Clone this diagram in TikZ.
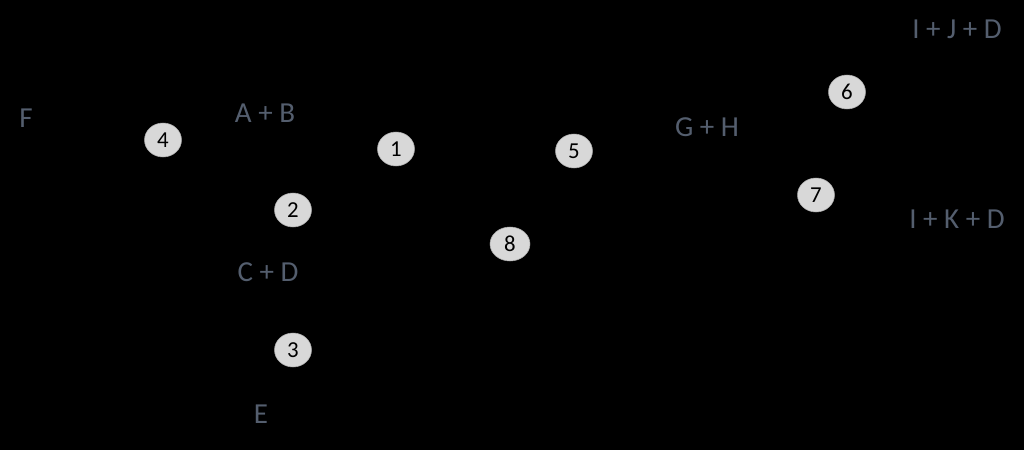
\documentclass[tikz,border=0pt]{standalone}
\usepackage{fontspec}
\setmainfont{Carlito}
\usetikzlibrary{shapes.geometric}
\definecolor{labelgray}{RGB}{84,94,110}
\definecolor{stepgray}{RGB}{216,216,216}
\tikzset{
  term/.style={text=labelgray, font=\fontsize{16.5}{19}\selectfont, inner sep=0pt},
  stepnum/.style={ellipse, fill=stepgray, draw=stepgray!80!black, line width=0.3pt,
    minimum width=0.74cm, minimum height=0.68cm, inner sep=0pt,
    font=\fontsize{13}{15}\selectfont, text=black}
}
\begin{document}
\begin{tikzpicture}[x=0.02cm, y=-0.02cm, line join=round, line cap=round]
\fill[black] (0,0) rectangle (1024,450);
\useasboundingbox (0,0) rectangle (1024,450);
% terms
\node[term] (F) at (26,118) {F};
\node[term] (AB) at (265,113) {A + B};
\node[term] (CD) at (268,272) {C + D};
\node[term] (E) at (261,414) {E};
\node[term] (GH) at (707,127) {G + H};
\node[term] (IJD) at (957,29) {I + J + D};
\node[term] (IKD) at (957,219) {I + K + D};
% steps
\node[stepnum] (s1) at (396,149) {1};
\node[stepnum] (s2) at (293,210) {2};
\node[stepnum] (s3) at (293,350) {3};
\node[stepnum] (s4) at (163,140) {4};
\node[stepnum] (s5) at (574,151) {5};
\node[stepnum] (s6) at (847,92) {6};
\node[stepnum] (s7) at (816,195) {7};
\node[stepnum, minimum width=0.8cm] (s8) at (510,244) {8};
\end{tikzpicture}
\end{document}
